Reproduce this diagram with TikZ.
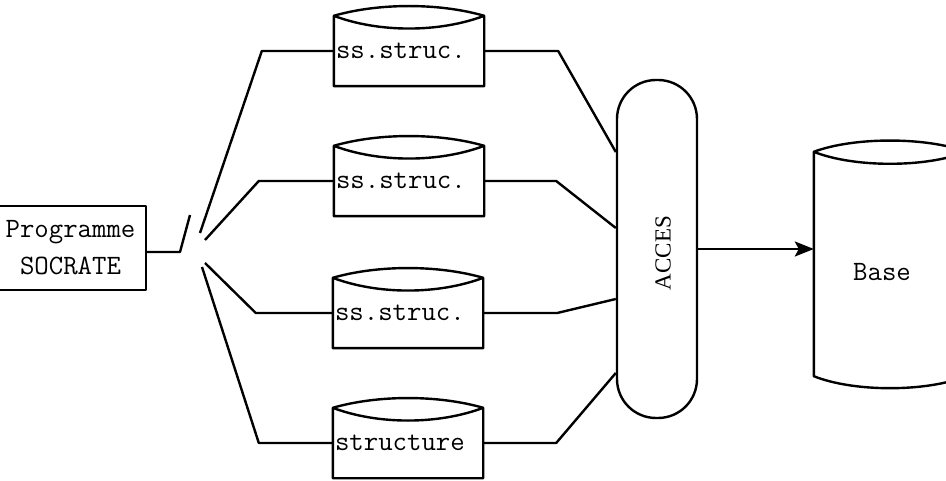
\documentclass[tikz,border=0pt]{standalone}
\usepackage{fontspec}
\setmainfont{Liberation Serif}
\usetikzlibrary{arrows.meta,calc}
\begin{document}
\begin{tikzpicture}[x=1pt,y=-1pt, line width=2.4pt, line join=round,
  txt/.style={font=\fontsize{28}{37}\selectfont\ttfamily},
  progbox/.style={draw, txt, align=center, minimum width=151, minimum height=84, inner sep=0pt},
  cyl/.style={txt, minimum width=148, text width=146, align=left, inner sep=1pt, minimum height=68},
  bigcyl/.style={minimum width=150, minimum height=222, inner sep=0pt},
  accbox/.style={draw, rounded corners=39pt, minimum width=80, minimum height=338, inner sep=0pt}]
\useasboundingbox (0,0) rectangle (946,481);
\newcommand\cylout[1]{\draw (#1.north west) -- (#1.south west) -- (#1.south east) -- (#1.north east)
   .. controls +(-45,-13) and +(45,-13) .. (#1.north west)
   .. controls +(45,17) and +(-45,17) .. (#1.north east);}
% Programme box
\node[progbox] (prog) at (70.5,248) {Programme\\SOCRATE};
% cylinders
\node[cyl] (c1) at (409,51) {ss.struc.};
\node[cyl] (c2) at (409,181) {ss.struc.};
\node[cyl] (c3) at (408,313) {ss.struc.};
\node[cyl] (c4) at (408,443) {structure};
\cylout{c1}\cylout{c2}\cylout{c3}\cylout{c4}
% ACCES
\node[accbox] (acc) at (657,249) {};
\node[font=\fontsize{23}{28}\selectfont, rotate=90] (acctxt) at (663,253) {ACCES};
% Base
\node[bigcyl] (base) at (890,264) {};
\draw (base.north west) -- (base.south west) .. controls +(40,16) and +(-40,16) .. (base.south east)
  -- (base.north east) .. controls +(-40,-15) and +(40,-15) .. (base.north west)
  .. controls +(40,16) and +(-40,16) .. (base.north east);
\node[txt] (basetxt) at (882,272) {Base};
% switch
\coordinate (sw) at (180,252);
\coordinate (swtop) at (190,215);
\draw (prog.east |- sw) -- (sw) -- (swtop);
\coordinate (f1) at (200,233);
\coordinate (f2) at (205,240);
\coordinate (f3) at (205,263);
\coordinate (f4) at (202,267);
\draw (f1) -- ([xshift=-72pt]c1.west) -- (c1.west);
\draw (f2) -- ([xshift=-75pt]c2.west) -- (c2.west);
\draw (f3) -- ([xshift=-77pt]c3.west) -- (c3.west);
\draw (f4) -- ([xshift=-74pt]c4.west) -- (c4.west);
% to ACCES
\draw (c1.east) -- ([xshift=74pt]c1.east) -- ([yshift=97pt]acc.west);
\draw (c2.east) -- ([xshift=72pt]c2.east) -- ([yshift=21pt]acc.west);
\draw (c3.east) -- ([xshift=74pt]c3.east) -- ([yshift=-50pt]acc.west);
\draw (c4.east) -- ([xshift=73pt]c4.east) -- ([yshift=-124pt]acc.west);
% arrow
\draw[-{Stealth[length=19pt,width=15pt,inset=4pt]}] (acc.east) -- (acc.east -| base.west);
\end{tikzpicture}
\end{document}
